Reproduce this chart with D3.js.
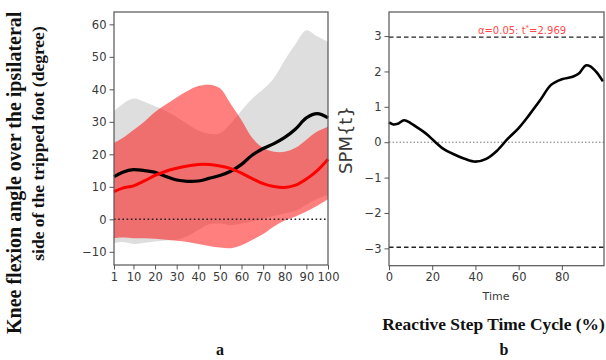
<!DOCTYPE html>
<html>
<head>
<meta charset="utf-8">
<script src="https://cdn.jsdelivr.net/npm/d3@7"></script>
<style>
  body { margin: 0; background: #fff; }
  svg { display: block; }
</style>
</head>
<body>
<script>
// panel a: knee flexion angle, two groups (mean + band)
const cycle = [1,5,10,15,20,25,30,35,40,45,50,55,60,65,70,75,80,85,90,95,100];
const grayUpper = [33.3,35.5,37.2,36.2,34.8,33.4,31.5,29.3,27.3,26.3,26.5,29.5,33.5,37.2,40,43.5,49,54,58.2,56.3,54.6];
const grayLower = [-7.3,-7.0,-7.6,-7.2,-6.8,-6.5,-6.3,-5.2,-3.3,-1.5,-1.3,-1.8,-1.3,-0.6,0.2,1.0,1.8,2.6,4.5,6.3,7.5];
const blackMean = [13.1,14.5,15.3,15.0,14.5,13.2,12.1,11.7,11.8,12.6,13.5,14.8,16.9,19.8,21.8,23.3,25.2,27.8,31.2,32.5,31.2];
const redUpper  = [23.5,25,27.5,30,33,35.3,37.5,39.5,41,41.4,40.3,35.5,30.5,25,22,20.8,20.8,22,24.5,27,28.5];
const redLower  = [-5.8,-5.6,-5.8,-5.8,-6.0,-6.3,-6.6,-7.0,-7.6,-8.2,-8.7,-8.9,-8.0,-6.3,-4.5,-2.2,-0.4,0.9,2.4,4.2,6.2];
const redMean   = [8.5,9.6,10.3,11.8,13.5,14.8,15.7,16.4,16.9,16.9,16.4,15.6,14.2,12.5,11,10.1,9.8,10.5,12.4,15,18.5];
const aTicksX = [1,10,20,30,40,50,60,70,80,90,100];
const aTicksY = [-10,0,10,20,30,40,50,60];

// panel b: SPM{t}
const spmTime = [0,2,4,7,10,13,17,21,25,30,35,40,45,50,55,60,65,70,75,80,85,88,91,93,96,99];
const spmT    = [0.56,0.5,0.52,0.62,0.54,0.42,0.25,0.03,-0.18,-0.34,-0.47,-0.55,-0.47,-0.24,0.1,0.4,0.78,1.19,1.62,1.78,1.85,1.95,2.17,2.15,1.98,1.72];
const tCrit = 2.969;
const bTicksX = [0,20,40,60,80];
const bTicksY = [-3,-2,-1,0,1,2,3];

const svg = d3.select("body").append("svg")
    .attr("width", 606)
    .attr("height", 360);

svg.append("rect").attr("width", 606).attr("height", 360).attr("fill", "#fff");

const tickColor = "#3a3a3a";
const frameColor = "#555";

function styleAxis(g) {
    g.select(".domain").remove();
    g.selectAll(".tick line").attr("stroke", frameColor);
    g.selectAll(".tick text")
        .attr("fill", tickColor)
        .attr("font-family", "DejaVu Sans, sans-serif")
        .attr("font-size", "11.5px");
}

// ---------- panel a ----------
const xA = d3.scaleLinear().domain([1,100]).range([114,328]);
const yA = d3.scaleLinear().domain([-14.06,63.8]).range([265,12]);

const gA = svg.append("g");
const rowsA = cycle.map((c,i) => ({c:c, gu:grayUpper[i], gl:grayLower[i], bm:blackMean[i], ru:redUpper[i], rl:redLower[i], rm:redMean[i]}));
const curve = d3.curveCatmullRom.alpha(0.5);

gA.append("path").datum(rowsA)
    .attr("fill", "#000").attr("fill-opacity", 0.13)
    .attr("d", d3.area().x(d => xA(d.c)).y0(d => yA(d.gl)).y1(d => yA(d.gu)).curve(curve));

gA.append("path").datum(rowsA)
    .attr("fill", "#ff0000").attr("fill-opacity", 0.5)
    .attr("d", d3.area().x(d => xA(d.c)).y0(d => yA(d.rl)).y1(d => yA(d.ru)).curve(curve));

gA.append("line")
    .attr("x1", xA.range()[0]).attr("x2", xA.range()[1])
    .attr("y1", yA(0)).attr("y2", yA(0))
    .attr("stroke", "#222").attr("stroke-width", 1.6).attr("stroke-dasharray", "1.6,2.6");

gA.append("path").datum(rowsA)
    .attr("fill", "none").attr("stroke", "#000").attr("stroke-width", 3.2)
    .attr("d", d3.line().x(d => xA(d.c)).y(d => yA(d.bm)).curve(curve));

gA.append("path").datum(rowsA)
    .attr("fill", "none").attr("stroke", "#ff0000").attr("stroke-width", 3)
    .attr("d", d3.line().x(d => xA(d.c)).y(d => yA(d.rm)).curve(curve));

gA.append("rect")
    .attr("x", 114).attr("y", 12).attr("width", 214).attr("height", 253)
    .attr("fill", "none").attr("stroke", frameColor).attr("stroke-width", 1.2);

gA.append("g").attr("transform", "translate(0,265)")
    .call(d3.axisBottom(xA).tickValues(aTicksX).tickSize(4.5).tickPadding(3))
    .call(styleAxis);
gA.append("g").attr("transform", "translate(114,0)")
    .call(d3.axisLeft(yA).tickValues(aTicksY).tickSize(4.5).tickPadding(3))
    .call(styleAxis);

// y label, two lines
svg.append("text")
    .attr("transform", "translate(21,334) rotate(-90)")
    .attr("text-anchor", "start")
    .attr("font-family", "Liberation Serif, Times New Roman, serif")
    .attr("font-weight", "bold").attr("font-size", "20px").attr("fill", "#111")
    .text("Knee flexion angle over the ipsilateral");
svg.append("text")
    .attr("transform", "translate(44,143.5) rotate(-90)")
    .attr("text-anchor", "middle")
    .attr("font-family", "Liberation Serif, Times New Roman, serif")
    .attr("font-weight", "bold").attr("font-size", "17.5px").attr("fill", "#111")
    .text("side of the tripped foot (degree)");

svg.append("text")
    .attr("x", 220).attr("y", 355)
    .attr("text-anchor", "middle")
    .attr("font-family", "Liberation Serif, Times New Roman, serif")
    .attr("font-weight", "bold").attr("font-size", "16px").attr("fill", "#111")
    .text("a");

// ---------- panel b ----------
const xB = d3.scaleLinear().domain([0,99.5]).range([389,604]);
const yB = d3.scaleLinear().domain([-3.49,3.68]).range([265.7,12]);
const gB = svg.append("g");

gB.append("line")
    .attr("x1", 389).attr("x2", 604).attr("y1", yB(0)).attr("y2", yB(0))
    .attr("stroke", "#777").attr("stroke-width", 1).attr("stroke-dasharray", "1.5,2");

[tCrit, -tCrit].forEach(v => {
    gB.append("line")
        .attr("x1", 389).attr("x2", 604).attr("y1", yB(v)).attr("y2", yB(v))
        .attr("stroke", "#222").attr("stroke-width", 1.3).attr("stroke-dasharray", "4.5,3");
});

const rowsB = spmTime.map((t,i) => ({t:t, v:spmT[i]}));
gB.append("path").datum(rowsB)
    .attr("fill", "none").attr("stroke", "#000").attr("stroke-width", 2.6)
    .attr("d", d3.line().x(d => xB(d.t)).y(d => yB(d.v)).curve(curve));

const thr = gB.append("text")
    .attr("x", 522).attr("y", 34)
    .attr("text-anchor", "middle")
    .attr("font-family", "DejaVu Sans, sans-serif")
    .attr("font-size", "10px").attr("fill", "#ff4a4a");
thr.append("tspan").text("α=0.05:  t");
thr.append("tspan").attr("dy", -4).attr("font-size", "7px").text("*");
thr.append("tspan").attr("dy", 4).text("=" + tCrit.toFixed(3));

gB.append("rect")
    .attr("x", 389).attr("y", 12).attr("width", 215).attr("height", 253.7)
    .attr("fill", "none").attr("stroke", frameColor).attr("stroke-width", 1.2);

gB.append("g").attr("transform", "translate(0,265.7)")
    .call(d3.axisBottom(xB).tickValues(bTicksX).tickSize(4.5).tickPadding(3))
    .call(styleAxis);
gB.append("g").attr("transform", "translate(389,0)")
    .call(d3.axisLeft(yB).tickValues(bTicksY).tickSize(4.5).tickPadding(3))
    .call(styleAxis);

svg.append("text")
    .attr("transform", "translate(352,140) rotate(-90)")
    .attr("text-anchor", "middle")
    .attr("font-family", "DejaVu Sans, sans-serif")
    .attr("font-size", "18px").attr("fill", tickColor)
    .text("SPM{t}");

svg.append("text")
    .attr("x", 496).attr("y", 300)
    .attr("text-anchor", "middle")
    .attr("font-family", "DejaVu Sans, sans-serif")
    .attr("font-size", "11px").attr("fill", tickColor)
    .text("Time");

svg.append("text")
    .attr("x", 493.5).attr("y", 330)
    .attr("text-anchor", "middle")
    .attr("font-family", "Liberation Serif, Times New Roman, serif")
    .attr("font-weight", "bold").attr("font-size", "17.4px").attr("fill", "#111")
    .text("Reactive Step Time Cycle (%)");

svg.append("text")
    .attr("x", 504).attr("y", 355)
    .attr("text-anchor", "middle")
    .attr("font-family", "Liberation Serif, Times New Roman, serif")
    .attr("font-weight", "bold").attr("font-size", "16px").attr("fill", "#111")
    .text("b");
</script>
</body>
</html>
